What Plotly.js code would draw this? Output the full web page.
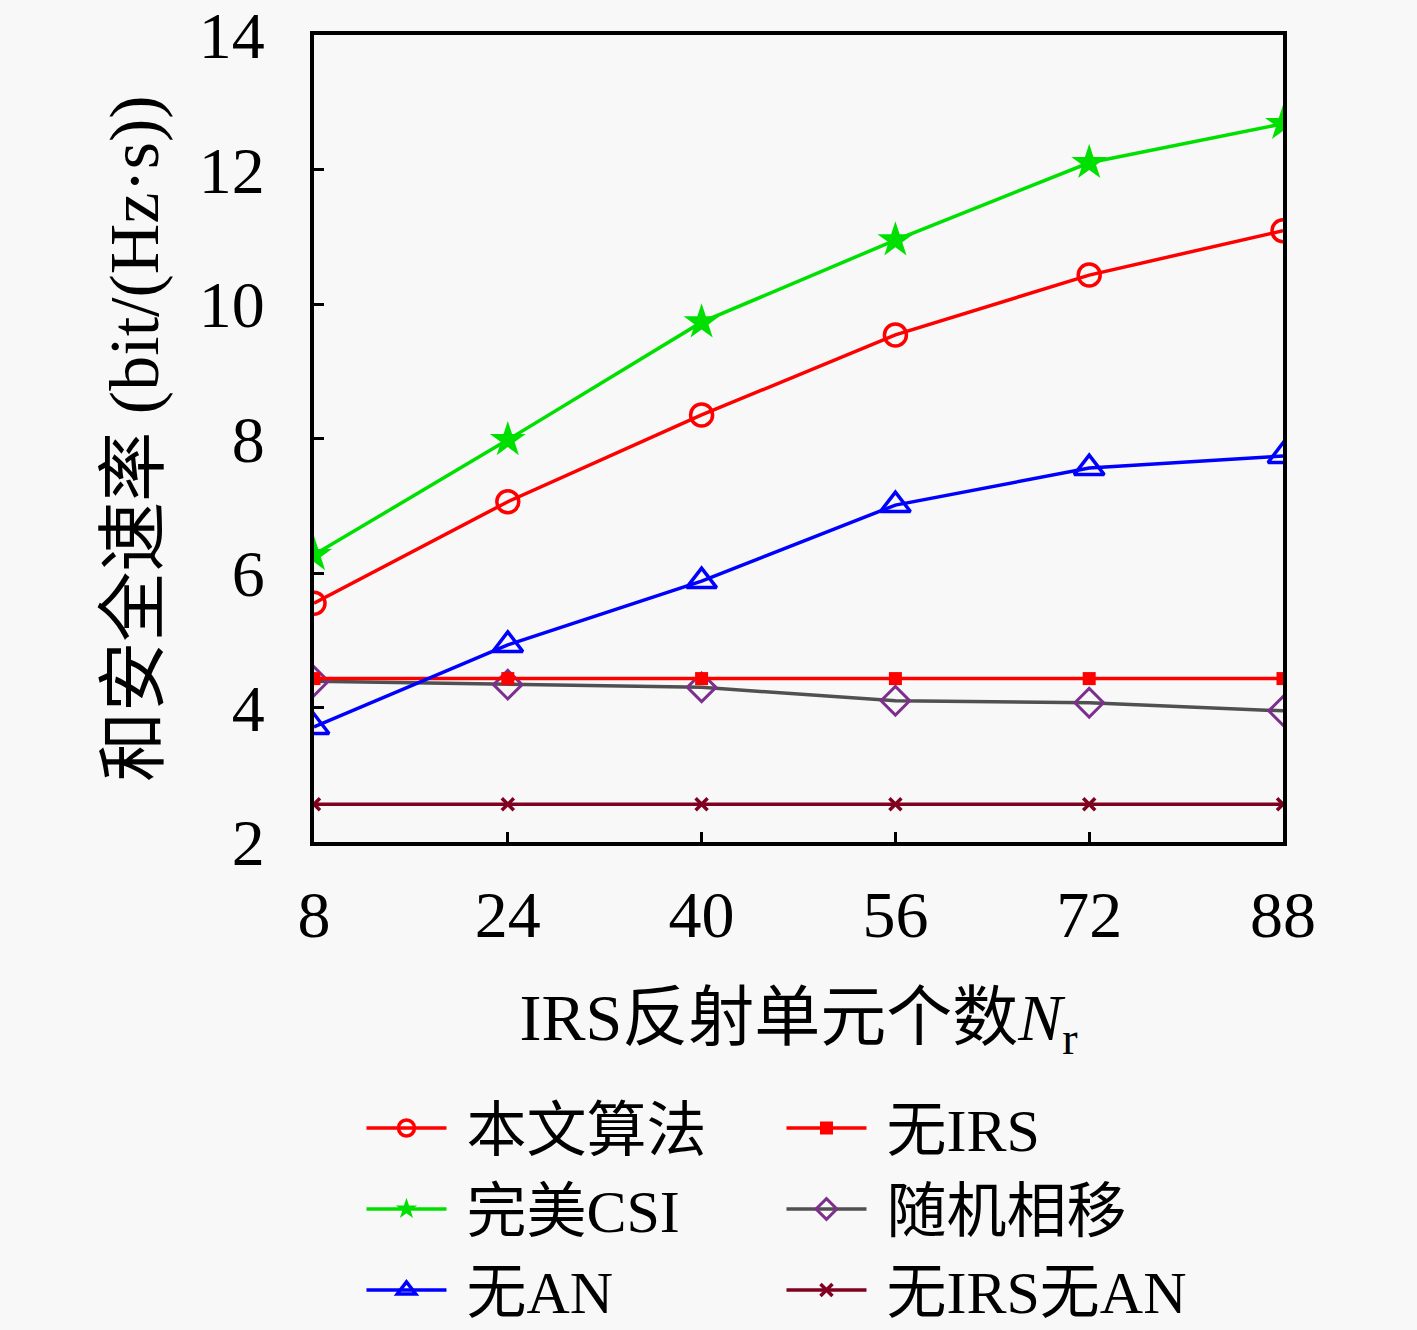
<!DOCTYPE html>
<html>
<head>
<meta charset="utf-8">
<script src="https://cdn.plot.ly/plotly-3.0.1.min.js"></script>
<style>
  html, body { margin: 0; padding: 0; background: #f8f8f8; }
  #plot { width: 1417px; height: 1330px; }
</style>
</head>
<body>
<div id="plot"></div>
<script>
// 数据
const nr = [8, 24, 40, 56, 72, 88];
const proposed = [5.55, 7.06, 8.35, 9.54, 10.43, 11.09];
const perfectCsi = [6.27, 7.98, 9.73, 10.95, 12.10, 12.68];
const noAn = [3.71, 4.93, 5.88, 7.01, 7.56, 7.74];
const noIrs = [4.43, 4.43, 4.43, 4.43, 4.43, 4.43];
const randomPhase = [4.39, 4.34, 4.30, 4.10, 4.07, 3.95];
const noIrsNoAn = [2.56, 2.56, 2.56, 2.56, 2.56, 2.56];

const serif = '"Liberation Serif", "DejaVu Serif", "Noto Sans CJK SC", serif';
const legendOrder = { '本文算法': 1, '无IRS': 2, '完美CSI': 3, '随机相移': 4, '无AN': 5, '无IRS无AN': 6 };

function line(name, y, color, symbol, size, markerColor, lw) {
    const mc = markerColor || color;
    return {
        x: nr, y: y, name: '\u00a0' + name, type: 'scatter', mode: 'lines+markers',
        legendrank: legendOrder[name],
        line: { color: color, width: 3.5 },
        marker: {
            symbol: symbol, size: size, color: mc,
            line: { color: mc, width: lw }
        }
    };
}

const data = [
    line('无IRS无AN', noIrsNoAn, '#800020', 'x-thin', 12, '#800020', 3.5),
    line('随机相移', randomPhase, '#505050', 'diamond-open', 22, '#7e2f8e', 3),
    line('无IRS', noIrs, '#ff0000', 'square', 13, '#ff0000', 0),
    line('无AN', noAn, '#0000ff', 'triangle-up-open', 26, '#0000ff', 3.5),
    line('本文算法', proposed, '#ff0000', 'circle-open', 22, '#ff0000', 3.5),
    line('完美CSI', perfectCsi, '#00e000', 'star', 27, '#00e000', 0)
];

const layout = {
    width: 1417, height: 1330,
    paper_bgcolor: '#f8f8f8', plot_bgcolor: '#f8f8f8',
    margin: { l: 314, r: 134, t: 35, b: 488, autoexpand: false },
    font: { family: serif, color: '#000', size: 60 },
    showlegend: true,
    legend: {
        orientation: 'h', x: 0.049, xanchor: 'left', y: -0.298, yanchor: 'top',
        entrywidth: 325, entrywidthmode: 'pixels', itemwidth: 80,
        traceorder: 'normal',
        bgcolor: 'rgba(0,0,0,0)',
        font: { family: serif, size: 60 },
        tracegroupgap: 0
    },
    xaxis: {
        range: [8, 88], tickvals: nr, ticktext: nr.map(String),
        automargin: false, ticklabeloverflow: 'allow',
        ticks: 'inside', ticklen: 10, tickwidth: 3, tickcolor: '#000',
        showline: true, linewidth: 4, linecolor: '#000', mirror: true,
        showgrid: false, zeroline: false,
        ticklabelstandoff: 12,
        tickfont: { family: serif, size: 66 },
        title: { text: 'IRS反射单元个数<i>N</i><sub>r</sub>', font: { family: serif, size: 66 }, standoff: 45 }
    },
    yaxis: {
        range: [2, 14], tickvals: [2, 4, 6, 8, 10, 12, 14],
        automargin: false, ticklabeloverflow: 'allow',
        ticks: 'inside', ticklen: 10, tickwidth: 3, tickcolor: '#000',
        showline: true, linewidth: 4, linecolor: '#000', mirror: true,
        showgrid: false, zeroline: false,
        ticklabelstandoff: 32,
        tickfont: { family: serif, size: 66 },
        title: { text: '和安全速率 (bit/(Hz·s))', font: { family: serif, size: 70 }, standoff: 18 }
    }
};

Plotly.newPlot('plot', data, layout, { staticPlot: true });
</script>
</body>
</html>
